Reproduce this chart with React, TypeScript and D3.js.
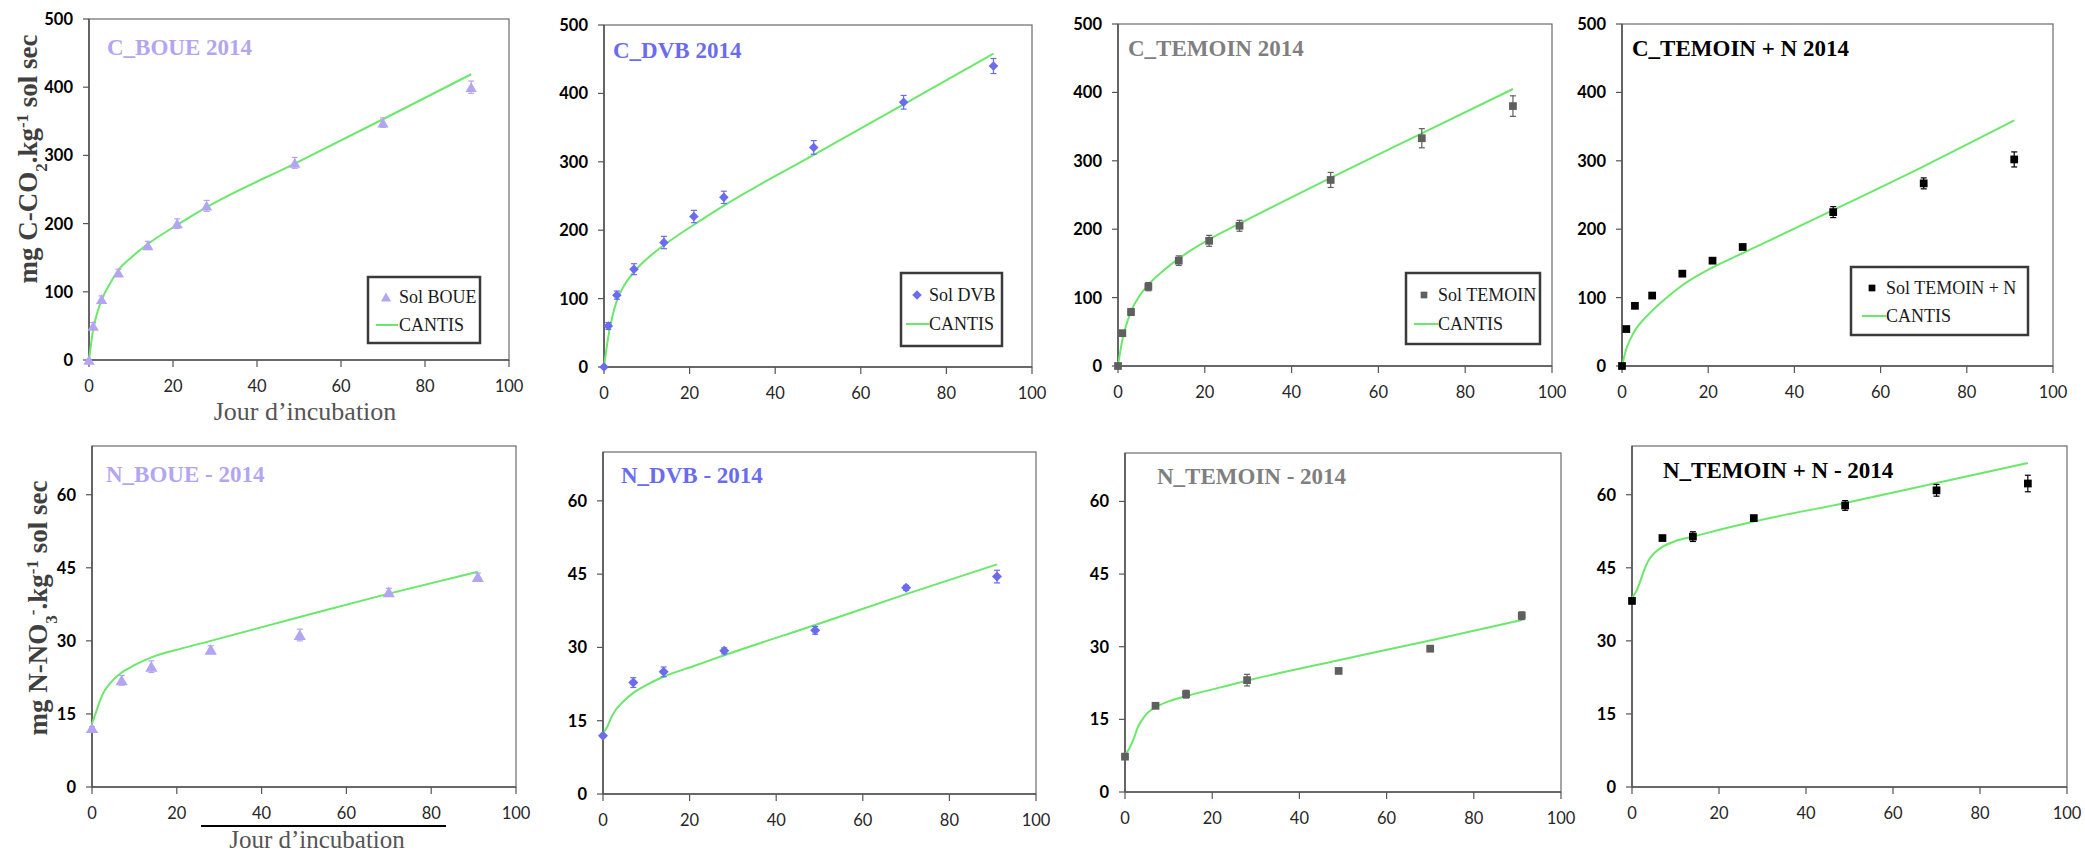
import React from 'react';
import * as d3 from 'd3';

// ---- tick labels ----
const X_TICKS = [0, 20, 40, 60, 80, 100];
const C_TICKS = [0, 100, 200, 300, 400, 500];
const N_TICKS = [0, 15, 30, 45, 60];

// ---- sampling days ----
const C_DAYS = [0, 1, 3, 7, 14, 21, 28, 49, 70, 91];
const N_DAYS = [0, 7, 14, 28, 49, 70, 91];
const C_FIT_DAYS = [0, 1, 2, 3, 5, 7, 10, 14, 21, 28, 49, 70, 91];
const N_FIT_DAYS = [0, 1, 2, 3, 4, 5, 7, 10, 14, 21, 28, 49, 70, 91];

// ---- C mineralisation (mg C-CO2 / kg) ----
const C_BOUE_OBS = [0, 50, 89, 128, 168, 200, 226, 289, 348, 400];
const C_BOUE_ERR = [0, 5, 5, 5, 6, 7, 8, 8, 7, 9];
const C_BOUE_FIT = [0, 45, 70, 88, 112, 132, 150, 170, 198, 224, 288, 353, 419];

const C_DVB_OBS = [0, 60, 105, 143, 182, 220, 248, 321, 387, 440];
const C_DVB_ERR = [0, 5, 6, 8, 9, 9, 9, 10, 10, 11];
const C_DVB_FIT = [0, 44, 75, 97, 122, 139, 158, 178, 208, 236, 310, 384, 458];

const C_TEM_OBS = [0, 48, 79, 116, 154, 183, 205, 272, 333, 380];
const C_TEM_ERR = [0, 3, 5, 6, 7, 8, 8, 11, 14, 15];
const C_TEM_FIT = [0, 38, 62, 80, 103, 119, 137, 157, 185, 208, 275, 340, 405];

const C_TEMN_OBS = [0, 54, 88, 103, 135, 154, 174, 225, 267, 302];
const C_TEMN_ERR = [0, 2, 2, 2, 3, 3, 3, 8, 8, 11];
const C_TEMN_FIT = [0, 25, 40, 52, 68, 81, 98, 118, 144, 165, 228, 292, 359];

// ---- N mineralisation (mg N-NO3 / kg) ----
const N_BOUE_OBS = [12.1, 21.9, 24.7, 28.2, 31.2, 40.0, 43.1];
const N_BOUE_ERR = [0.3, 1.0, 1.2, 0.8, 1.2, 0.8, 0.8];
const N_BOUE_FIT = [13, 15.5, 18, 19.8, 21, 22, 23.5, 25, 26.6, 28.4, 30, 34.9, 39.7, 44.2];

const N_DVB_OBS = [11.9, 22.8, 25.0, 29.3, 33.5, 42.2, 44.5];
const N_DVB_ERR = [0.3, 1.0, 1.0, 0.6, 0.8, 0.5, 1.3];
const N_DVB_FIT = [12.4, 13.8, 15.8, 17.3, 18.3, 19.2, 20.7, 22.3, 24, 26.2, 28.4, 34.6, 40.9, 47];

const N_TEM_OBS = [7.3, 17.8, 20.2, 23.1, 25.0, 29.6, 36.4];
const N_TEM_ERR = [0.3, 0.4, 0.8, 1.2, 0.4, 0.6, 0.8];
const N_TEM_FIT = [7.7, 9, 11, 13.5, 15, 16.2, 17.5, 18.7, 19.8, 21.4, 23, 27.2, 31.3, 35.5];

const N_TEMN_OBS = [38.2, 51.1, 51.4, 55.2, 57.8, 60.9, 62.3];
const N_TEMN_ERR = [0.3, 0.3, 1.0, 0.5, 1.0, 1.2, 1.7];
const N_TEMN_FIT = [38.8, 40.2, 42.5, 45, 46.8, 47.9, 49.3, 50.5, 51.4, 53, 54.5, 58.3, 62.4, 66.5];

// ---- styles ----
const GREEN = '#6be86b';
const LAVENDER = '#b4a5f3';
const BLUE = '#6b6bf0';
const GREY = '#5f5f5f';
const GREY_TITLE = '#7f7f7f';
const BLACK = '#000000';
const SERIF = '"Liberation Serif", "Times New Roman", serif';
const SANS = 'Lato, "Open Sans", sans-serif';

type Shape = 'triangle' | 'diamond' | 'square';

type Panel = {
  title: string; titleColor: string; tx: number; ty: number;
  l: number; r: number; t: number; b: number;
  yMax: number; yTicks: number[];
  days: number[]; obs: number[]; err: number[];
  fitDays: number[]; fit: number[];
  color: string; shape: Shape; symSize: number;
  legend?: { label: string; x0: number; x1: number; y0: number; y1: number; mx: number; my: number; tx: number; lx0: number; lx1: number; ly: number };
};

const PANELS: Panel[] = [
  {
    title: 'C_BOUE 2014', titleColor: LAVENDER, tx: 107, ty: 55,
    l: 89, r: 509, t: 19, b: 360, yMax: 500, yTicks: C_TICKS,
    days: C_DAYS, obs: C_BOUE_OBS, err: C_BOUE_ERR, fitDays: C_FIT_DAYS, fit: C_BOUE_FIT,
    color: LAVENDER, shape: 'triangle', symSize: 55,
    legend: { label: 'Sol BOUE', x0: 368, x1: 480, y0: 277, y1: 343, mx: 386, my: 297, tx: 399, lx0: 376, lx1: 398, ly: 325 },
  },
  {
    title: 'C_DVB 2014', titleColor: BLUE, tx: 613, ty: 58,
    l: 604, r: 1032, t: 25, b: 367, yMax: 500, yTicks: C_TICKS,
    days: C_DAYS, obs: C_DVB_OBS, err: C_DVB_ERR, fitDays: C_FIT_DAYS, fit: C_DVB_FIT,
    color: BLUE, shape: 'diamond', symSize: 46,
    legend: { label: 'Sol DVB', x0: 901, x1: 1002, y0: 273, y1: 346, mx: 917, my: 295, tx: 929, lx0: 906, lx1: 929, ly: 324 },
  },
  {
    title: 'C_TEMOIN 2014', titleColor: GREY_TITLE, tx: 1128, ty: 56,
    l: 1118, r: 1552, t: 24, b: 366, yMax: 500, yTicks: C_TICKS,
    days: C_DAYS, obs: C_TEM_OBS, err: C_TEM_ERR, fitDays: C_FIT_DAYS, fit: C_TEM_FIT,
    color: GREY, shape: 'square', symSize: 60,
    legend: { label: 'Sol TEMOIN', x0: 1406, x1: 1540, y0: 273, y1: 344, mx: 1424, my: 295, tx: 1438, lx0: 1414, lx1: 1438, ly: 324 },
  },
  {
    title: 'C_TEMOIN + N 2014', titleColor: BLACK, tx: 1632, ty: 56,
    l: 1622, r: 2053, t: 24, b: 366, yMax: 500, yTicks: C_TICKS,
    days: C_DAYS, obs: C_TEMN_OBS, err: C_TEMN_ERR, fitDays: C_FIT_DAYS, fit: C_TEMN_FIT,
    color: BLACK, shape: 'square', symSize: 60,
    legend: { label: 'Sol TEMOIN + N', x0: 1851, x1: 2028, y0: 267, y1: 335, mx: 1872, my: 288, tx: 1886, lx0: 1862, lx1: 1886, ly: 316 },
  },
  {
    title: 'N_BOUE - 2014', titleColor: LAVENDER, tx: 106, ty: 482,
    l: 92, r: 516, t: 446, b: 787, yMax: 70, yTicks: N_TICKS,
    days: N_DAYS, obs: N_BOUE_OBS, err: N_BOUE_ERR, fitDays: N_FIT_DAYS, fit: N_BOUE_FIT,
    color: LAVENDER, shape: 'triangle', symSize: 65,
  },
  {
    title: 'N_DVB - 2014', titleColor: BLUE, tx: 621, ty: 483,
    l: 603, r: 1036, t: 452, b: 794, yMax: 70, yTicks: N_TICKS,
    days: N_DAYS, obs: N_DVB_OBS, err: N_DVB_ERR, fitDays: N_FIT_DAYS, fit: N_DVB_FIT,
    color: BLUE, shape: 'diamond', symSize: 50,
  },
  {
    title: 'N_TEMOIN - 2014', titleColor: GREY_TITLE, tx: 1157, ty: 484,
    l: 1125, r: 1561, t: 453, b: 792, yMax: 70, yTicks: N_TICKS,
    days: N_DAYS, obs: N_TEM_OBS, err: N_TEM_ERR, fitDays: N_FIT_DAYS, fit: N_TEM_FIT,
    color: GREY, shape: 'square', symSize: 60,
  },
  {
    title: 'N_TEMOIN + N - 2014', titleColor: BLACK, tx: 1663, ty: 478,
    l: 1632, r: 2067, t: 446, b: 787, yMax: 70, yTicks: N_TICKS,
    days: N_DAYS, obs: N_TEMN_OBS, err: N_TEMN_ERR, fitDays: N_FIT_DAYS, fit: N_TEMN_FIT,
    color: BLACK, shape: 'square', symSize: 60,
  },
];

function symbolPath(shape: Shape, size: number): string {
  const type = shape === 'triangle' ? d3.symbolTriangle : d3.symbolSquare;
  return d3.symbol().type(type).size(size)() || '';
}

function Marker({ shape, size, cx, cy, color }: { shape: Shape; size: number; cx: number; cy: number; color: string }) {
  const rot = shape === 'diamond' ? ' rotate(45)' : '';
  const off = shape === 'triangle' ? 1.5 : 0;
  return <path d={symbolPath(shape, size)} transform={`translate(${cx},${cy + off})${rot}`} fill={color} />;
}

function PanelView({ p }: { p: Panel }) {
  const x = d3.scaleLinear().domain([0, 100]).range([p.l, p.r]);
  const y = d3.scaleLinear().domain([0, p.yMax]).range([p.b, p.t]);
  const line = d3
    .line<number>()
    .x((_, i) => x(p.fitDays[i]))
    .y((d) => y(d))
    .curve(d3.curveMonotoneX);
  return (
    <g>
      {/* frame */}
      <rect x={p.l} y={p.t} width={p.r - p.l} height={p.b - p.t} fill="none" stroke="#6a6a6a" strokeWidth={1.2} />
      <line x1={p.l} x2={p.l} y1={p.t} y2={p.b} stroke="#555" strokeWidth={1.6} />
      <line x1={p.l} x2={p.r} y1={p.b} y2={p.b} stroke="#555" strokeWidth={1.6} />
      {/* y ticks */}
      {p.yTicks.map((v) => (
        <g key={'y' + v}>
          <line x1={p.l - 6} x2={p.l} y1={y(v)} y2={y(v)} stroke="#555" strokeWidth={1.2} />
          <text x={p.l - 16} y={y(v)} dy="0.36em" textAnchor="end" fontFamily={SANS} fontWeight="bold" fontSize={16.5} fill="#000">
            {v}
          </text>
        </g>
      ))}
      {/* x ticks */}
      {X_TICKS.map((v) => (
        <g key={'x' + v}>
          <line x1={x(v)} x2={x(v)} y1={p.b} y2={p.b + 7} stroke="#555" strokeWidth={1.2} />
          <text x={x(v)} y={p.b + 32} textAnchor="middle" fontFamily={SANS} fontSize={16.5} fill="#262626">
            {v}
          </text>
        </g>
      ))}
      {/* title */}
      <text x={p.tx} y={p.ty} fontFamily={SERIF} fontWeight="bold" fontSize={23} fill={p.titleColor}>
        {p.title}
      </text>
      {/* model curve */}
      <path d={line(p.fit) || ''} fill="none" stroke={GREEN} strokeWidth={2} />
      {/* error bars */}
      {p.days.map((d, i) =>
        p.err[i] > 0 ? (
          <g key={'e' + i} stroke={p.color} strokeWidth={1.2}>
            <line x1={x(d)} x2={x(d)} y1={y(p.obs[i] - p.err[i])} y2={y(p.obs[i] + p.err[i])} />
            <line x1={x(d) - 3} x2={x(d) + 3} y1={y(p.obs[i] + p.err[i])} y2={y(p.obs[i] + p.err[i])} />
            <line x1={x(d) - 3} x2={x(d) + 3} y1={y(p.obs[i] - p.err[i])} y2={y(p.obs[i] - p.err[i])} />
          </g>
        ) : null
      )}
      {/* points */}
      {p.days.map((d, i) => (
        <Marker key={'p' + i} shape={p.shape} size={p.symSize} cx={x(d)} cy={y(p.obs[i])} color={p.color} />
      ))}
      {/* legend */}
      {p.legend && (
        <g>
          <rect x={p.legend.x0} y={p.legend.y0} width={p.legend.x1 - p.legend.x0} height={p.legend.y1 - p.legend.y0} fill="#fff" stroke="#3a3a3a" strokeWidth={2.5} />
          <Marker shape={p.shape} size={45} cx={p.legend.mx} cy={p.legend.my} color={p.color} />
          <text x={p.legend.tx} y={p.legend.my + 6} fontFamily={SERIF} fontSize={18} fill="#1a1a1a">
            {p.legend.label}
          </text>
          <line x1={p.legend.lx0} x2={p.legend.lx1} y1={p.legend.ly} y2={p.legend.ly} stroke={GREEN} strokeWidth={2} />
          <text x={p.legend.tx} y={p.legend.ly + 6} fontFamily={SERIF} fontSize={18} fill="#1a1a1a">
            CANTIS
          </text>
        </g>
      )}
    </g>
  );
}

export default function App() {
  return (
    <svg
      width={2085}
      height={855}
      viewBox="0 0 2085 855"
      style={{ position: 'absolute', left: 0, top: 0, background: '#fff', display: 'block' }}
    >
      <rect x={0} y={0} width={2085} height={855} fill="#fff" />
      {PANELS.map((p, i) => (
        <PanelView key={i} p={p} />
      ))}
      {/* y axis labels */}
      <text transform="translate(37,159) rotate(-90)" textAnchor="middle" fontFamily={SERIF} fontWeight="bold" fontSize={27} fill="#404040">
        mg C-CO<tspan baselineShift="sub" fontSize={17}>2</tspan>.kg<tspan baselineShift="super" fontSize={17}>-1</tspan> sol sec
      </text>
      <text transform="translate(47,608) rotate(-90)" textAnchor="middle" fontFamily={SERIF} fontWeight="bold" fontSize={27} fill="#404040">
        mg N-NO<tspan baselineShift="sub" fontSize={17}>3</tspan><tspan baselineShift="super" fontSize={17}>-</tspan>.kg<tspan baselineShift="super" fontSize={17}>-1</tspan> sol sec
      </text>
      {/* x axis labels */}
      <text x={305} y={420} textAnchor="middle" fontFamily={SERIF} fontSize={26} fill="#555">
        Jour d’incubation
      </text>
      <line x1={201} x2={446} y1={826} y2={826} stroke="#000" strokeWidth={1.8} />
      <text x={317} y={848} textAnchor="middle" fontFamily={SERIF} fontSize={25} fill="#555">
        Jour d’incubation
      </text>
    </svg>
  );
}
